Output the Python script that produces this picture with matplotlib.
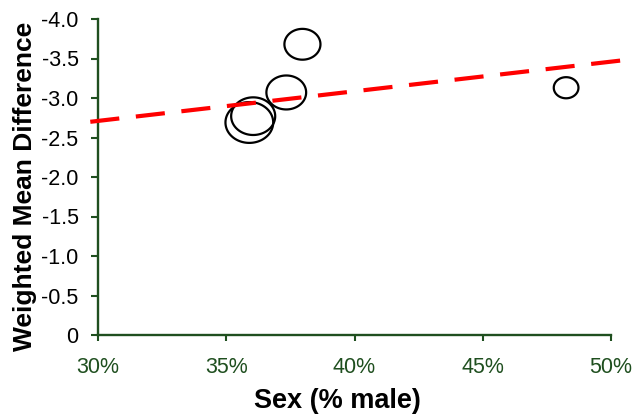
import matplotlib
matplotlib.use("Agg")
import matplotlib.pyplot as plt
import numpy as np
from matplotlib.path import Path

# ---- data ----
pct_male = [37.97, 37.34, 36.05, 35.90, 48.25]
wmd = [-3.68, -3.07, -2.77, -2.69, -3.13]
weights = [13.0, 15.8, 19.4, 22.8, 6.1]
reg_intercept = -2.71   # value at 30%
reg_slope = -0.0375     # per percentage point
reg_range = [29.7, 50.6]
x_ticks = [30, 35, 40, 45, 50]
x_ticklabels = ["30%", "35%", "40%", "45%", "50%"]
y_ticks = [0, -0.5, -1.0, -1.5, -2.0, -2.5, -3.0, -3.5, -4.0]
y_ticklabels = ["0", "-0.5", "-1.0", "-1.5", "-2.0", "-2.5", "-3.0", "-3.5", "-4.0"]

plt.rcParams['font.family'] = ['Liberation Sans', 'DejaVu Sans']
green = "#1f4f1f"

fig = plt.figure(figsize=(6.32, 4.16), dpi=100)
ax = fig.add_axes([98/632, 81/416, 513/632, 316/416])

# elliptical marker (bubbles are slightly wider than tall)
t = np.linspace(0, 2*np.pi, 100)
ell = Path(np.column_stack([1.17*np.cos(t), np.sin(t)]), closed=True)

sizes = [w * 51.84 for w in weights]
ax.scatter(pct_male, wmd, s=sizes, marker=ell, facecolors='none',
           edgecolors='black', linewidths=1.6, zorder=2)

xr = np.array(reg_range)
yr = reg_intercept + reg_slope * (xr - 30)
ax.plot(xr, yr, color='#ff0000', linewidth=3.0, dashes=(7, 4),
        clip_on=False, zorder=3, dash_capstyle='butt')

ax.set_xlim(30, 50)
ax.set_ylim(0, -4.0)
ax.set_xticks(x_ticks)
ax.set_xticklabels(x_ticklabels, color=green, fontsize=15.5)
ax.set_yticks(y_ticks)
ax.set_yticklabels(y_ticklabels, color='black', fontsize=15.5)

for s in ['top', 'right']:
    ax.spines[s].set_visible(False)
for s in ['left', 'bottom']:
    ax.spines[s].set_color(green)
    ax.spines[s].set_linewidth(1.7)
ax.tick_params(axis='x', colors=green, width=1.5, length=4, direction='out',
               labelcolor=green, pad=12)
ax.tick_params(axis='y', colors=green, width=1.5, length=5, direction='out',
               labelcolor='black', pad=9)

fig.text(337/632, 1 - 401/416, "Sex (% male)", fontsize=19.5, fontweight='bold',
         ha='center', va='center')
fig.text(25/632, 1 - 186/416, "Weighted Mean Difference", fontsize=19,
         fontweight='bold', ha='center', va='center', rotation=90)

fig.savefig("out.png", dpi=100)
